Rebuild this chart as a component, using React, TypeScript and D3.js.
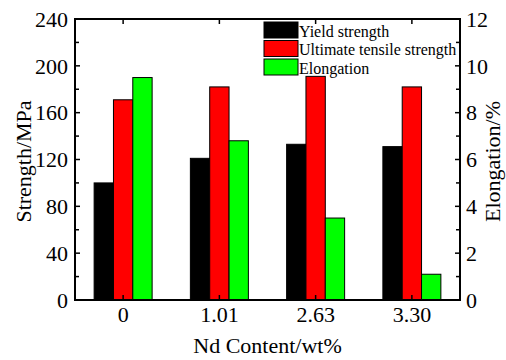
import React from "react";
import * as d3 from "d3";

const categories = ["0", "1.01", "2.63", "3.30"];
const yieldStrength = [100, 121, 133, 131];
const ultimateStrength = [171, 182, 191, 182];
const elongation = [9.5, 6.8, 3.5, 1.1];
const seriesNames = ["Yield strength", "Ultimate tensile strength", "Elongation"];
const seriesColors = ["#000000", "#ff0000", "#00ff00"];
const leftTicks = [0, 40, 80, 120, 160, 200, 240];
const rightTicks = [0, 2, 4, 6, 8, 10, 12];

const W = 506;
const H = 360;
const M = { left: 75, right: 460, top: 19, bottom: 300 };
const FONT = "'Liberation Serif', 'Times New Roman', serif";

export default function App() {
  const x = d3.scaleBand<string>().domain(categories).range([M.left, M.right]).padding(0);
  const inner = d3.scaleBand<string>().domain(seriesNames).range([-29, 29]).padding(0);
  const yL = d3.scaleLinear().domain([0, 240]).range([M.bottom, M.top]);
  const yR = d3.scaleLinear().domain([0, 12]).range([M.bottom, M.top]);

  const leftMinor = d3.range(20, 240, 40);
  const rightMinor = d3.range(1, 12, 2);

  const bars: JSX.Element[] = [];
  categories.forEach((c, i) => {
    const cx = (x(c) as number) + x.bandwidth() / 2;
    const vals = [
      { s: seriesNames[0], y: yL(yieldStrength[i]) },
      { s: seriesNames[1], y: yL(ultimateStrength[i]) },
      { s: seriesNames[2], y: yR(elongation[i]) },
    ];
    vals.forEach((v, j) => {
      bars.push(
        <rect
          key={`${c}-${j}`}
          x={cx + (inner(v.s) as number)}
          y={v.y}
          width={inner.bandwidth()}
          height={M.bottom - v.y}
          fill={seriesColors[j]}
          stroke="#000"
          strokeWidth={1}
        />
      );
    });
  });

  const midY = (M.top + M.bottom) / 2 + 2;

  return (
    <svg width={W} height={H} style={{ position: "absolute", left: 0, top: 0, background: "#fff" }} fontFamily={FONT}>
      {bars}
      {/* frame */}
      <rect x={M.left} y={M.top} width={M.right - M.left} height={M.bottom - M.top} fill="none" stroke="#000" strokeWidth={2} />
      {/* left ticks */}
      {leftTicks.map((t) => (
        <g key={`l${t}`}>
          <line x1={M.left} x2={M.left + 5} y1={yL(t)} y2={yL(t)} stroke="#000" strokeWidth={1.5} />
          <text x={M.left - 7} y={yL(t)} dy="0.35em" textAnchor="end" fontSize={22}>{t}</text>
        </g>
      ))}
      {leftMinor.map((t) => (
        <line key={`lm${t}`} x1={M.left} x2={M.left + 4} y1={yL(t)} y2={yL(t)} stroke="#000" strokeWidth={1.5} />
      ))}
      {/* right ticks */}
      {rightTicks.map((t) => (
        <g key={`r${t}`}>
          <line x1={M.right} x2={M.right - 5} y1={yR(t)} y2={yR(t)} stroke="#000" strokeWidth={1.5} />
          <text x={M.right + 6} y={yR(t)} dy="0.35em" textAnchor="start" fontSize={22}>{t}</text>
        </g>
      ))}
      {rightMinor.map((t) => (
        <line key={`rm${t}`} x1={M.right} x2={M.right - 4} y1={yR(t)} y2={yR(t)} stroke="#000" strokeWidth={1.5} />
      ))}
      {/* bottom & top ticks */}
      {categories.map((c) => {
        const cx = (x(c) as number) + x.bandwidth() / 2;
        return (
          <g key={`b${c}`}>
            <line x1={cx} x2={cx} y1={M.bottom} y2={M.bottom - 5} stroke="#000" strokeWidth={1.5} />
            <line x1={cx} x2={cx} y1={M.top} y2={M.top + 5} stroke="#000" strokeWidth={1.5} />
            <text x={cx} y={322} textAnchor="middle" fontSize={22}>{c}</text>
          </g>
        );
      })}
      {/* axis titles */}
      <text transform={`translate(31,${midY}) rotate(-90)`} textAnchor="middle" fontSize={22}>
        Strength/MPa
      </text>
      <text transform={`translate(500,${midY}) rotate(-90)`} textAnchor="middle" fontSize={22}>
        Elongation/%
      </text>
      <text x={(M.left + M.right) / 2} y={353} textAnchor="middle" fontSize={22}>
        Nd Content/wt%
      </text>
      {/* legend */}
      {seriesNames.map((s, i) => (
        <g key={`lg${i}`}>
          <rect x={264} y={22 + 18.5 * i} width={34} height={16} fill={seriesColors[i]} stroke="#000" strokeWidth={1} />
          <text x={299} y={36.5 + 18.5 * i} fontSize={16}>{s}</text>
        </g>
      ))}
    </svg>
  );
}
